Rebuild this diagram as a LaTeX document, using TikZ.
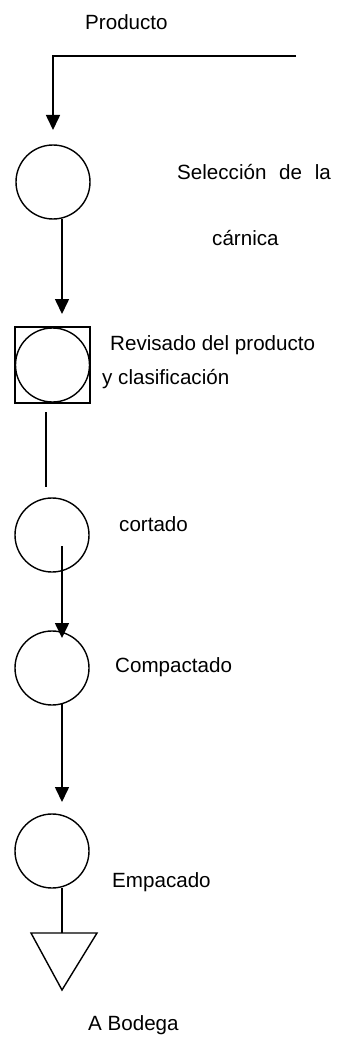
\documentclass[tikz,border=0pt]{standalone}
\usepackage{fontspec}
\setmainfont{Liberation Sans}
\usetikzlibrary{arrows.meta}
\begin{document}
\begin{tikzpicture}[x=1pt,y=-1pt,
  every node/.style={font=\fontsize{20.6}{24}\selectfont, inner sep=0pt},
  lbl/.style={anchor=west},
  op/.style={draw, circle, line width=1.4pt, minimum size=74pt},
  conn/.style={line width=1.6pt},
  arr/.style={conn, -{Triangle[width=14pt,length=15pt]}}]
\useasboundingbox (0,0) rectangle (350,1038);
% labels
\node[lbl] (tprod) at (85,22) {Producto};
\node[lbl] (tsel) at (177,172) {Selección\hspace{7pt} de\hspace{7pt} la};
\node[lbl] (tcar) at (212,238) {cárnica};
\node[lbl] (trev) at (110,345) {Revisado del producto};
\node[lbl] (tcla) at (102,379) {y clasificación};
\node[lbl] (tcor) at (119,524) {cortado};
\node[lbl] (tcom) at (115,667) {Compactado};
\node[lbl] (temp) at (112,882) {Empacado};
\node[lbl] (tbod) at (88,1025) {A Bodega};
% symbols
\node[op] (c1) at (53,182) {};
\node[draw, line width=1.4pt, minimum width=75pt, minimum height=76pt] (s2) at (52.5,365) {};
\node[op] (c2) at (52.5,365) {};
\node[op] (c3) at (52,535) {};
\node[op] (c4) at (52,668) {};
\node[op] (c5) at (52,851) {};
% coordinates
\coordinate (in) at (296,56);
\coordinate (k) at (53,56);
\coordinate (t1) at (53,130);
\coordinate (a2s) at (62,219);
\coordinate (a2e) at (62,314);
\coordinate (l3s) at (46,412);
\coordinate (l3e) at (46,487);
\coordinate (a4s) at (62,546);
\coordinate (a4e) at (62,638);
\coordinate (a5s) at (62,704);
\coordinate (a5e) at (62,802);
\coordinate (l6s) at (62,888);
\coordinate (ta) at (31,933);
\coordinate (tb) at (97,933);
\coordinate (tc) at (62,990);
\coordinate (l6e) at (62,933);
% connectors
\draw[arr] (in) -- (k) -- (t1);
\draw[arr] (a2s) -- (a2e);
\draw[conn] (l3s) -- (l3e);
\draw[arr] (a4s) -- (a4e);
\draw[arr] (a5s) -- (a5e);
\draw[conn] (l6s) -- (l6e);
\draw[line width=1.4pt, line join=miter] (ta) -- (tb) -- (tc) -- cycle;
\end{tikzpicture}
\end{document}
